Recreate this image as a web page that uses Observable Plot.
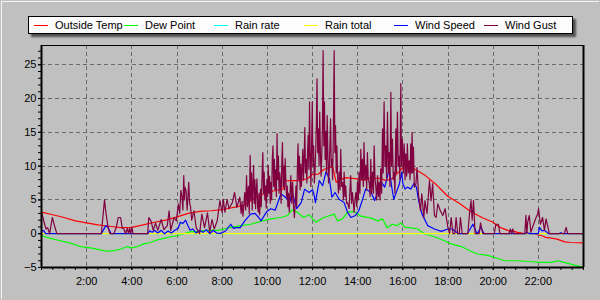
<!DOCTYPE html>
<html>
<head>
<meta charset="utf-8">
<script src="https://cdn.jsdelivr.net/npm/d3@7"></script>
<script src="https://cdn.jsdelivr.net/npm/@observablehq/plot@0.6"></script>
<style>
  html, body { margin: 0; padding: 0; }
  body { width: 600px; height: 300px; background: #c0c0c0; position: relative; overflow: hidden; font-family: Arial, "Liberation Sans", sans-serif; }
  #bevel { position: absolute; left: 1px; top: 1px; width: 598px; height: 298px; border-top: 1px solid #f4f4f4; border-left: 1px solid #f4f4f4; box-sizing: border-box; pointer-events: none; }
  #header { position: relative; height: 40px; }
  #legend { position: absolute; left: 28px; top: 16px; width: 545px; height: 18px; background: #fcfcfc; border: 1px solid #000; box-sizing: border-box; box-shadow: 3px 3px 2px #505050; }
  .item { position: absolute; top: 0; height: 16px; }
  .swatch { position: absolute; top: 8px; width: 14px; height: 1px; }
  .label { position: absolute; top: 1px; font-size: 11px; line-height: 14px; white-space: nowrap; color: #000; }
  #chart { position: relative; }
</style>
</head>
<body>
<div id="bevel"></div>
<div id="header"><div id="legend"></div></div>
<div id="chart"></div>
<script>
// ---- series names & colours (legend order) ----
const seriesNames = ["Outside Temp", "Dew Point", "Rain rate", "Rain total", "Wind Speed", "Wind Gust"];
const seriesColors = ["#ff0000", "#00ff00", "#00ffff", "#ffff00", "#0000ff", "#800040"];

// ---- tick labels ----
const xTickHours = [2, 4, 6, 8, 10, 12, 14, 16, 18, 20, 22];
const yTickValues = [-5, 0, 5, 10, 15, 20, 25];

// ---- Outside Temp (hour of day, °C) ----
const tempT = [0, 0.5, 1, 1.5, 2, 2.5, 3, 3.5, 4, 4.5, 5, 5.5, 6, 6.5, 7, 7.5, 8, 8.67, 9, 9.5, 10, 10.5, 10.7, 10.75, 11, 11.5, 11.8, 12, 12.25, 12.5, 12.75, 12.9, 13.05, 13.25, 13.45, 14, 14.3, 14.5, 15, 15.25, 15.5, 15.75, 16, 16.25, 16.5, 17, 17.5, 18, 18.5, 19, 19.5, 20, 20.17, 20.33, 20.67, 20.92, 21.08, 21.33, 21.75, 22.17, 22.33, 22.58, 22.83, 23.17, 23.42, 24];
const tempV = [3.2, 2.8, 2.4, 1.9, 1.6, 1.3, 1.1, 0.9, 0.95, 1.3, 1.7, 2.0, 2.5, 3.0, 3.3, 3.4, 3.55, 4.0, 4.25, 5.4, 6.1, 6.5, 6.6, 7.8, 7.85, 7.85, 8.2, 8.8, 8.8, 9.5, 9.8, 9.8, 7.6, 8.0, 8.3, 8.1, 7.9, 8.2, 8.2, 7.85, 8.1, 8.9, 9.8, 10.1, 9.6, 8.6, 7.2, 5.5, 4.5, 3.3, 2.4, 1.7, 1.2, 0.9, 0.45, 0.35, 0.2, 0.05, 0, -0.3, -0.55, -0.65, -0.8, -1.2, -1.3, -1.35];

// ---- Dew Point ----
const dewT = [0, 0.4, 0.84, 1.28, 1.72, 2.17, 2.6, 2.9, 3.2, 3.5, 3.8, 3.95, 4.24, 4.53, 4.83, 5.13, 5.42, 5.72, 6.01, 6.3, 6.6, 6.9, 7.2, 7.5, 7.8, 8.1, 8.38, 8.82, 9.26, 9.7, 10.15, 10.6, 10.9, 11.1, 11.33, 11.6, 11.85, 12.15, 12.5, 12.96, 13.1, 13.33, 13.55, 13.85, 14.14, 14.6, 14.88, 15.1, 15.3, 15.55, 15.77, 15.9, 16.1, 16.36, 16.66, 16.95, 17.4, 17.84, 18.13, 18.6, 18.9, 19.3, 19.76, 20.13, 20.5, 21.1, 21.7, 22.1, 22.6, 22.86, 23.15, 23.6, 23.9, 24];
const dewV = [-0.3, -0.7, -1.04, -1.4, -1.9, -2.1, -2.4, -2.6, -2.5, -2.3, -1.9, -2.1, -1.9, -1.5, -1.3, -0.9, -0.7, -0.45, -0.3, 0.0, 0.3, 0.3, 0.45, 0.5, 0.5, 0.7, 0.95, 1.2, 1.4, 1.8, 2.2, 2.4, 2.7, 3.55, 3.2, 2.4, 2.8, 1.7, 2.4, 2.9, 1.9, 2.2, 3.2, 3.3, 2.6, 2.3, 1.9, 2.2, 0.9, 1.4, 1.2, 1.6, 0.95, 0.85, 0.7, 0.0, -0.45, -1.04, -1.5, -1.9, -2.4, -3.0, -3.2, -3.6, -4.0, -4.0, -4.15, -4.25, -4.25, -4.0, -4.25, -4.65, -4.9, -4.95];

// ---- Rain rate / Rain total ----
const rainT = [0, 24];
const rainRateV = [0, 0];
const rainTotalV = [0, 0];

// ---- Wind Speed ----
const speedT = [0, 0.1, 0.18, 2.65, 2.75, 2.85, 2.95, 3.08, 4.72, 4.78, 4.9, 5.0, 5.15, 5.3, 5.45, 5.6, 5.75, 5.9, 6.05, 6.15, 6.25, 6.38, 6.48, 6.58, 6.7, 6.85, 7.0, 7.15, 7.3, 7.45, 7.6, 7.75, 7.93, 8.15, 8.38, 8.5, 8.6, 8.8, 9.0, 9.26, 9.45, 9.62, 9.72, 9.98, 10.15, 10.35, 10.6, 10.8, 11.0, 11.1, 11.3, 11.5, 11.65, 11.85, 12.0, 12.06, 12.13, 12.3, 12.45, 12.6, 12.75, 12.86, 13.0, 13.18, 13.4, 13.55, 13.7, 13.9, 14.05, 14.2, 14.35, 14.6, 14.75, 14.88, 15.05, 15.2, 15.4, 15.5, 15.6, 15.7, 15.85, 15.95, 16.0, 16.1, 16.2, 16.35, 16.5, 16.6, 16.7, 16.85, 17.1, 17.4, 17.7, 18.0, 18.2, 18.45, 18.85, 19.0, 19.1, 19.25, 19.3, 19.45, 19.6, 21.4, 21.5, 21.6, 22.0, 22.05, 22.15, 22.3, 22.45, 22.9, 23.0, 23.1, 24];
const speedV = [0.45, 0.45, 0, 0, 0.6, 1.2, 0.9, 0, 0, 0.45, 0.2, 0.5, 0.1, 0.5, 0, 0.4, 0.1, 0.5, 0.8, 1.7, 1.5, 2.0, 1.2, 0.5, 0.7, 0.1, 0.5, 0.2, 0.6, 0, 0.5, 0.1, 0.05, 0.4, 1.4, 0.8, 0.9, 0.9, 1.9, 2.9, 3.0, 2.4, 1.9, 3.3, 3.7, 3.5, 5.9, 5.4, 4.8, 6.1, 3.7, 4.6, 6.6, 6.1, 6.5, 5.9, 4.6, 7.85, 7.1, 9.2, 8.1, 5.4, 6.1, 5.1, 4.6, 3.2, 2.4, 2.7, 3.4, 4.9, 6.6, 6.1, 4.9, 6.1, 7.6, 6.9, 9.6, 7.1, 5.1, 6.0, 7.4, 9.1, 7.45, 6.6, 6.9, 6.6, 7.45, 6.9, 4.9, 2.9, 1.2, 0.7, 0.35, 0.7, 0.7, 0, 0, 0.8, 1.4, 0.3, 0, 0.95, 0, 0, 0.2, 0, 0, 0.95, 0.45, 0.45, 0, 0, 0.15, 0, 0];

// ---- Wind Gust: [hour, value] ----
const gust = [
  [0, 3.2], [0.08, 2.2], [0.13, 1.5], [0.2, 0.7], [0.27, 0.9], [0.36, 0], [0.42, 1.2], [0.48, 2.4], [0.55, 1.5], [0.6, 0.9], [0.68, 0],
  [2.65, 0], [2.72, 2.5], [2.79, 5.0], [2.85, 3.2], [2.95, 0.9], [3.03, 0], [3.2, 0], [3.3, 0.8], [3.4, 2.4], [3.5, 2.4], [3.58, 0.8],
  [3.65, 0.7], [3.72, 0], [3.8, 0.8], [3.85, 0], [3.9, 0.8], [3.95, 0], [4.0, 1.0], [4.05, 0],
  [4.7, 0], [4.75, 2.4], [4.85, 1.9], [4.95, 0.5], [5.05, 1.6], [5.15, 0.5], [5.3, 2.1], [5.42, 0.6], [5.57, 1.2], [5.65, 3.4],
  [5.72, 0.5], [5.87, 2.4], [5.97, 1.9], [6.06, 4.4], [6.12, 3.0], [6.17, 6.4], [6.22, 5.5], [6.26, 3.5], [6.3, 8.6], [6.33, 5.0], [6.35, 6.9],
  [6.4, 6.4], [6.45, 3.5], [6.52, 7.6], [6.56, 4.5], [6.6, 4.0], [6.65, 2.0], [6.75, 3.4], [6.85, 0.9], [7.0, 0], [7.1, 2.9], [7.22, 0.9],
  [7.35, 3.1], [7.45, 0.2], [7.55, 2.1], [7.65, 0.7], [7.78, 1.9], [7.9, 4.9], [8.0, 3.1], [8.05, 5.1], [8.12, 3.2], [8.22, 5.1],
  [8.3, 3.7], [8.45, 4.6], [8.55, 6.1], [8.65, 3.9], [8.78, 5.4],
  [8.84, 3.0], [8.88, 4.8], [8.92, 2.6], [8.96, 4.2], [9.0, 6.1], [9.04, 3.5], [9.08, 8.6], [9.12, 4.0], [9.16, 7.0], [9.2, 3.0],
  [9.24, 11.6], [9.27, 5.0], [9.3, 9.0], [9.33, 3.5], [9.36, 7.1], [9.39, 10.1], [9.42, 4.5], [9.45, 8.0], [9.48, 3.7], [9.51, 6.5],
  [9.54, 8.1], [9.57, 4.0], [9.6, 3.2], [9.63, 6.0], [9.66, 2.8], [9.7, 6.6], [9.73, 4.0], [9.77, 9.0], [9.8, 12.0], [9.83, 6.0],
  [9.86, 9.1], [9.89, 5.0], [9.92, 7.1], [9.95, 3.8], [9.98, 8.0], [10.01, 5.5], [10.04, 10.1], [10.07, 6.0], [10.1, 8.5], [10.13, 4.5],
  [10.16, 7.6], [10.19, 5.0], [10.22, 11.0], [10.25, 13.0], [10.28, 7.0], [10.31, 11.0], [10.34, 6.5], [10.37, 9.5], [10.4, 5.5],
  [10.43, 14.8], [10.46, 8.0], [10.49, 11.5], [10.52, 6.0], [10.55, 9.0], [10.58, 7.6], [10.61, 4.5], [10.64, 10.5], [10.67, 13.5],
  [10.7, 7.0], [10.73, 10.0], [10.76, 6.5], [10.79, 11.1], [10.82, 8.0], [10.85, 5.5], [10.88, 7.1], [10.91, 4.0], [10.94, 6.0],
  [10.97, 3.2], [11.0, 5.5], [11.04, 8.6], [11.08, 4.5], [11.12, 7.6], [11.16, 4.0], [11.2, 2.4], [11.24, 5.0], [11.27, 7.1], [11.3, 4.0],
  [11.33, 9.5], [11.36, 13.3], [11.39, 8.0], [11.42, 11.5], [11.45, 6.5], [11.48, 10.3], [11.51, 7.0], [11.54, 9.5], [11.57, 12.5],
  [11.6, 8.0], [11.63, 11.0], [11.66, 15.7], [11.69, 9.0], [11.72, 11.0], [11.75, 7.5], [11.78, 12.0], [11.81, 14.6], [11.84, 9.5],
  [11.87, 19.5], [11.9, 11.5], [11.93, 7.0], [11.96, 13.0], [11.99, 19.5], [12.02, 10.0], [12.05, 13.0], [12.08, 7.5], [12.11, 9.1],
  [12.14, 12.0], [12.17, 16.0], [12.2, 22.9], [12.23, 12.0], [12.26, 15.5], [12.29, 10.0], [12.32, 18.0], [12.35, 12.0], [12.38, 8.5],
  [12.41, 11.5], [12.44, 16.0], [12.47, 27.1], [12.5, 13.0], [12.53, 19.5], [12.56, 11.0], [12.59, 15.1], [12.62, 9.0], [12.65, 17.5],
  [12.68, 12.0], [12.71, 7.5], [12.74, 9.1], [12.77, 13.0], [12.8, 17.0], [12.83, 10.0], [12.86, 11.0], [12.89, 8.0], [12.92, 14.0],
  [12.96, 27.1], [12.99, 12.0], [13.02, 16.0], [13.05, 9.0], [13.08, 13.0], [13.11, 8.6], [13.15, 6.0], [13.18, 9.1], [13.22, 6.5],
  [13.25, 12.5], [13.29, 7.0], [13.33, 7.6], [13.37, 5.0], [13.4, 9.1], [13.44, 5.5], [13.47, 7.1], [13.51, 4.5], [13.55, 4.6],
  [13.62, 3.7], [13.69, 8.6], [13.73, 4.5], [13.77, 6.1], [13.84, 3.2], [13.88, 5.0], [13.92, 6.1], [13.96, 4.0], [13.99, 7.6],
  [14.03, 5.0], [14.06, 9.1], [14.1, 6.0], [14.14, 12.5], [14.18, 8.0], [14.21, 11.0], [14.25, 7.0], [14.28, 13.5], [14.32, 8.0],
  [14.36, 10.1], [14.4, 6.5], [14.43, 12.0], [14.47, 8.0], [14.51, 7.6], [14.55, 5.5], [14.58, 11.0], [14.62, 6.0], [14.66, 9.1],
  [14.7, 6.0], [14.73, 13.0], [14.77, 8.0], [14.8, 7.1], [14.84, 5.0], [14.88, 8.6], [14.92, 5.5], [14.95, 7.6], [14.99, 5.0],
  [15.02, 9.6], [15.06, 6.0], [15.1, 15.5], [15.13, 9.0], [15.17, 19.5], [15.21, 10.0], [15.25, 13.0], [15.28, 8.0], [15.32, 18.0],
  [15.36, 9.0], [15.39, 12.0], [15.43, 7.0], [15.47, 20.9], [15.5, 10.0], [15.54, 14.0], [15.58, 8.0], [15.62, 9.1], [15.65, 6.0],
  [15.69, 15.5], [15.72, 9.0], [15.76, 18.0], [15.8, 10.0], [15.84, 11.5], [15.87, 8.0], [15.91, 22.2], [15.94, 10.0], [15.98, 14.0],
  [16.02, 9.0], [16.06, 13.3], [16.1, 8.0], [16.13, 11.8], [16.17, 8.5], [16.2, 13.3], [16.24, 9.0], [16.28, 10.8], [16.32, 8.0],
  [16.35, 13.3], [16.38, 9.0], [16.41, 15.0], [16.44, 9.0], [16.47, 12.8], [16.51, 6.9],
  [16.58, 7.4], [16.63, 9.8], [16.69, 5.9], [16.78, 3.4], [16.84, 5.9], [16.93, 2.4], [16.98, 4.9], [17.07, 3.0], [17.18, 7.85],
  [17.25, 4.9], [17.32, 7.4], [17.4, 2.7], [17.47, 2.4], [17.55, 4.4], [17.66, 3.4], [17.77, 2.7], [17.87, 3.7], [17.99, 1.0],
  [18.07, 0], [18.14, 2.4], [18.22, 0], [18.3, 0], [18.36, 2.4], [18.43, 0], [18.5, 0], [18.55, 2.4], [18.63, 0],
  [18.88, 0], [18.95, 2.9], [19.02, 4.9], [19.07, 2.0], [19.13, 4.9], [19.2, 0], [19.38, 0], [19.44, 1.6], [19.54, 0],
  [20.05, 0], [20.12, 1.4], [20.23, 1.4], [20.3, 0], [20.7, 0], [20.76, 0.7], [20.82, 0], [20.87, 0.7], [20.92, 0],
  [21.4, 0], [21.45, 2.7], [21.49, 0], [21.53, 1.7], [21.6, 2.7], [21.67, 0.2], [21.79, 1.4], [21.9, 2.4], [21.97, 2.9],
  [22.01, 3.7], [22.09, 1.4], [22.19, 2.4], [22.27, 0.5], [22.34, 2.2], [22.41, 1.2], [22.49, 0],
  [23.15, 0], [23.23, 0.95], [23.3, 0], [24, 0]
];

// ---- build tables ----
const toRows = (T, V) => T.map((t, i) => ({t, v: V[i]}));
const series = [
  toRows(tempT, tempV),
  toRows(dewT, dewV),
  toRows(rainT, rainRateV),
  toRows(rainT, rainTotalV),
  toRows(speedT, speedV),
  gust.map(([t, v]) => ({t, v}))
];

// ---- legend ----
const legend = document.getElementById("legend");
seriesNames.forEach((name, i) => {
  const item = document.createElement("div");
  item.className = "item";
  item.style.left = (5 + 90 * i) + "px";
  const sw = document.createElement("div");
  sw.className = "swatch";
  sw.style.left = "0px";
  sw.style.background = seriesColors[i];
  const lb = document.createElement("div");
  lb.className = "label";
  lb.style.left = "21px";
  lb.textContent = name;
  item.appendChild(sw);
  item.appendChild(lb);
  legend.appendChild(item);
});

// ---- chart ----
const xDomain = [0, 24];
const yDomain = [-5, 27.85];
const xMinor = d3.range(0, 24.001, 0.5);
const yMinor = d3.range(-5, 27.5, 1);
const gridX = xTickHours;
const gridY = [5, 10, 15, 20, 25];

const chart = Plot.plot({
  width: 600,
  height: 260,
  marginTop: 5,
  marginBottom: 33,
  marginLeft: 41,
  marginRight: 17,
  style: {background: "transparent", fontSize: "11px", fontFamily: "Arial, 'Liberation Sans', sans-serif", color: "#000"},
  x: {domain: xDomain, label: null},
  y: {domain: yDomain, label: null},
  marks: [
    Plot.ruleX(gridX, {stroke: "#6a6a6a", strokeDasharray: "4,3", strokeWidth: 1, shapeRendering: "crispEdges"}),
    Plot.ruleY(gridY, {stroke: "#6a6a6a", strokeDasharray: "4,3", strokeWidth: 1, shapeRendering: "crispEdges"}),
    ...series.map((rows, i) => Plot.line(rows, {x: "t", y: "v", stroke: seriesColors[i], strokeWidth: 1.2})),
    Plot.axisX(xMinor, {tickSize: 3, tickFormat: () => "", label: null, stroke: "#000"}),
    Plot.axisX(xTickHours, {tickSize: 3, tickPadding: 7, tickFormat: d => d + ":00", label: null, fill: "#000"}),
    Plot.axisY(yMinor, {tickSize: 3, tickFormat: () => "", label: null}),
    Plot.axisY(yTickValues, {tickSize: 3, tickPadding: 2, label: null, fill: "#000"}),
    Plot.ruleX([xDomain[0]], {stroke: "#000", strokeWidth: 2}),
    Plot.ruleX([xDomain[1]], {stroke: "#000", strokeWidth: 2}),
    Plot.ruleY([yDomain[0]], {stroke: "#000", strokeWidth: 2}),
    Plot.ruleY([yDomain[1]], {stroke: "#000", strokeWidth: 1})
  ]
});
document.getElementById("chart").appendChild(chart);
</script>
</body>
</html>
